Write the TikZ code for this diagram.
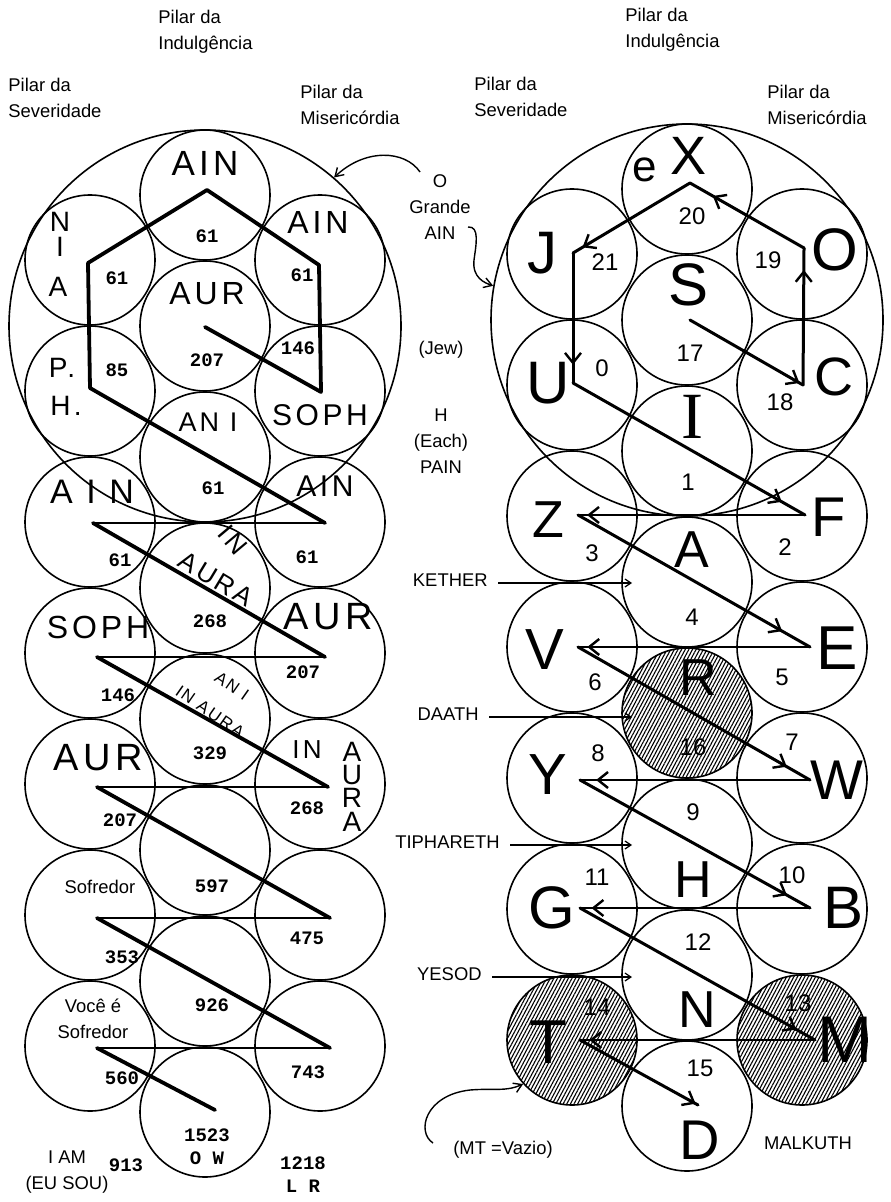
\documentclass[tikz,border=0pt]{standalone}
\usepackage{fontspec}
\setmainfont{Liberation Sans}
\newfontfamily\maofont[LetterSpace=12]{Liberation Sans}
\newfontfamily\numfont{Liberation Mono}
\newfontfamily\serifont{Liberation Serif}
\usetikzlibrary{arrows.meta,decorations.markings,patterns.meta}

\tikzset{
  bola/.style={circle, draw, line width=0.8pt, minimum size=65pt, inner sep=0pt},
  grande/.style={circle, draw, line width=0.8pt, minimum size=196pt, inner sep=0pt},
  hachura/.style={pattern={Lines[angle=62,distance=1.6pt,line width=0.55pt]}},
  rotulo/.style={font=\fontsize{9.2}{13}\selectfont, inner sep=0pt},
  mao/.style={font=\maofont\fontsize{#1}{#1}\selectfont, inner sep=0pt},
  mao/.default=16,
  letra/.style={font=\fontsize{#1}{#1}\selectfont, inner sep=0pt},
  letra/.default=28,
  num/.style={font=\numfont\bfseries\fontsize{9.5}{11.5}\selectfont, inner sep=0pt},
  numr/.style={font=\fontsize{12}{12}\selectfont, inner sep=0pt},
  raio/.style={line width=1.9pt, line join=round, line cap=round},
  raiofino/.style={line width=1.3pt, line cap=round},
  caminho/.style={line width=1.5pt, line cap=round},
  caminhofino/.style={line width=1.2pt, line cap=round},
  seta/.style={postaction={decorate}, decoration={markings,
      mark=at position #1 with {\arrow{Straight Barb[length=5pt,width=8pt,line width=1.2pt]}}}},
  seta/.default=0.97,
  fina/.style={line width=0.6pt, -{Straight Barb[length=3pt,width=4pt]}},
  curva/.style={line width=0.7pt, -{Straight Barb[length=4pt,width=5pt]}},
}

\begin{document}
\begin{tikzpicture}[x=0.5pt, y=-0.5pt]
    \useasboundingbox (0,0) rectangle (890,1202);

    % Pilares
    \node[rotulo, align=left, anchor=north west] (pIndE) at (158,10) {Pilar da\\Indulgência};
    \node[rotulo, align=left, anchor=north west] (pSevE) at (8,78) {Pilar da\\Severidade};
    \node[rotulo, align=left, anchor=north west] (pMisE) at (300,85) {Pilar da\\Misericórdia};
    \node[rotulo, align=left, anchor=north west] (pIndD) at (625,8) {Pilar da\\Indulgência};
    \node[rotulo, align=left, anchor=north west] (pSevD) at (474,77) {Pilar da\\Severidade};
    \node[rotulo, align=left, anchor=north west] (pMisD) at (767,85) {Pilar da\\Misericórdia};

    % O Grande AIN
    \node[grande] (grande1) at (205,326) {};
    \node[grande] (grande2) at (687,320) {};

    % Arvore da esquerda
    \node[bola] (eAIN) at (205,195) {};
    \node[bola] (eNIA) at (90,260) {};
    \node[bola] (eAINb) at (320,260) {};
    \node[bola] (eAUR) at (205,326) {};
    \node[bola] (ePH) at (90,391) {};
    \node[bola] (eSOPH) at (320,391) {};
    \node[bola] (eANI) at (205,457) {};
    \node[bola] (eAINc) at (90,522) {};
    \node[bola] (eAINd) at (320,522) {};
    \node[bola] (eINAURA) at (205,588) {};
    \node[bola] (eSOPHb) at (90,653) {};
    \node[bola] (eAURb) at (320,653) {};
    \node[bola] (eANIAURA) at (205,719) {};
    \node[bola] (eAURc) at (90,784) {};
    \node[bola] (eINAURAb) at (320,784) {};
    \node[bola] (e597) at (205,850) {};
    \node[bola] (eSofr) at (90,915) {};
    \node[bola] (e475) at (320,915) {};
    \node[bola] (e926) at (205,981) {};
    \node[bola] (eVoce) at (90,1046) {};
    \node[bola] (e743) at (320,1046) {};
    \node[bola] (e1523) at (205,1112) {};

    % Arvore da direita
    \node[bola] (cX) at (687,189) {};
    \node[bola] (cJ) at (572,254) {};
    \node[bola] (cO) at (802,254) {};
    \node[bola] (cS) at (687,320) {};
    \node[bola] (cU) at (572,385) {};
    \node[bola] (cC) at (802,385) {};
    \node[bola] (cI) at (687,451) {};
    \node[bola] (cZ) at (572,516) {};
    \node[bola] (cF) at (802,516) {};
    \node[bola] (cA) at (687,582) {};
    \node[bola] (cV) at (572,647) {};
    \node[bola] (cE) at (802,647) {};
    \node[bola, hachura] (cR) at (687,713) {};
    \node[bola] (cY) at (572,778) {};
    \node[bola] (cW) at (802,778) {};
    \node[bola] (cH) at (687,844) {};
    \node[bola] (cG) at (572,909) {};
    \node[bola] (cB) at (802,909) {};
    \node[bola] (cN) at (687,975) {};
    \node[bola, hachura] (cT) at (572,1040) {};
    \node[bola, hachura] (cM) at (802,1040) {};
    \node[bola] (cD) at (687,1106) {};

    % Raio da esquerda
    \coordinate (a0) at (205,327);
    \coordinate (a1) at (321,392);
    \coordinate (a2) at (319,265);
    \coordinate (a3) at (207,190);
    \coordinate (a4) at (88,263);
    \coordinate (a5) at (90,388);
    \coordinate (a6) at (325,523);
    \coordinate (a7) at (93,523);
    \coordinate (a8) at (325,657);
    \coordinate (a9) at (97,657);
    \coordinate (a10) at (328,787);
    \coordinate (a11) at (97,787);
    \coordinate (a12) at (330,918);
    \coordinate (a13) at (97,918);
    \coordinate (a14) at (330,1048);
    \coordinate (a15) at (97,1048);
    \coordinate (a16) at (215,1110);
    \draw[raio] (a0) -- (a1) -- (a2) -- (a3) -- (a4) -- (a5) -- (a6);
    \draw[raiofino] (a6) -- (a7) (a8) -- (a9) (a10) -- (a11) (a12) -- (a13) (a14) -- (a15);
    \draw[raio] (a7) -- (a8) (a9) -- (a10) (a11) -- (a12) (a13) -- (a14) (a15) -- (a16);

    % Caminho da direita
    \coordinate (pS) at (690,320);
    \coordinate (pC) at (803,385);
    \coordinate (pCt) at (804,248);
    \coordinate (pX) at (690,183);
    \coordinate (pJ) at (573,253);
    \coordinate (pU) at (573,383);
    \coordinate (pF) at (805,515);
    \coordinate (pZ) at (578,515);
    \coordinate (pE) at (810,647);
    \coordinate (pV) at (578,647);
    \coordinate (pW) at (810,780);
    \coordinate (pY) at (580,780);
    \coordinate (pB) at (810,908);
    \coordinate (pG) at (580,908);
    \coordinate (pM) at (815,1040);
    \coordinate (pT) at (580,1040);
    \coordinate (pD) at (698,1105);
    \draw[caminho, seta=0.97] (pS) -- (pC);
    \draw[caminho, seta=0.84] (pC) -- (pCt);
    \draw[caminho, seta=0.8] (pCt) -- (pX);
    \draw[caminho, seta=0.92] (pX) -- (pJ);
    \draw[caminho, seta=0.86] (pJ) -- (pU);
    \draw[caminho, seta=0.9] (pU) -- (pF);
    \draw[caminhofino, seta=0.96] (pF) -- (pZ);
    \draw[caminho, seta=0.88] (pZ) -- (pE);
    \draw[caminhofino, seta=0.96] (pE) -- (pV);
    \draw[caminho, seta=0.9] (pV) -- (pW);
    \draw[caminhofino, seta=0.93] (pW) -- (pY);
    \draw[caminho, seta=0.9] (pY) -- (pB);
    \draw[caminhofino, seta=0.95] (pB) -- (pG);
    \draw[caminho, seta=0.92] (pG) -- (pM);
    \draw[caminhofino, seta=0.96] (pM) -- (pT);
    \draw[caminho, seta=0.98] (pT) -- (pD);

    % Textos do meio
    \node[rotulo, align=center, anchor=north] (ogrande) at (440,174) {O\\Grande\\AIN};
    \coordinate (g1) at (420,172);
    \coordinate (g2) at (468,227);
    \draw[curva] (g1) .. controls (405,150) and (365,148) .. (grande1.49);
    \draw[curva] (g2) .. controls (480,226) and (476,245) .. (474,260) .. controls (472,278) and (485,283) .. (grande2.170);
    \node[rotulo] (jew) at (441,350) {(Jew)};
    \node[rotulo, align=center, anchor=north] (pain) at (441,408) {H\\(Each)\\PAIN};

    \node[rotulo, anchor=base east] (kether) at (488,586) {KETHER};
    \node[rotulo, anchor=base east] (daath) at (479,720) {DAATH};
    \node[rotulo, anchor=base east] (tiph) at (500,848) {TIPHARETH};
    \node[rotulo, anchor=base east] (yesod) at (482,980) {YESOD};
    \coordinate (kether-a) at (632,583);
    \coordinate (daath-a) at (632,717);
    \coordinate (tiph-a) at (632,845);
    \coordinate (yesod-a) at (632,977);
    \draw[fina] ([shift={(5pt,1.5pt)}]kether.base east) -- (kether-a);
    \draw[fina] ([shift={(5pt,1.5pt)}]daath.base east) -- (daath-a);
    \draw[fina] ([shift={(5pt,1.5pt)}]tiph.base east) -- (tiph-a);
    \draw[fina] ([shift={(5pt,1.5pt)}]yesod.base east) -- (yesod-a);

    \node[rotulo] (vazio) at (503,1150) {(MT =Vazio)};
    \coordinate (m1) at (433,1143);
    \draw[curva] (m1) .. controls (416,1132) and (425,1095) .. (470,1090) .. controls (495,1088) and (505,1092) .. (cT.222);
    \node[rotulo] (malkuth) at (808,1143) {MALKUTH};

    % Letras e numeros da esquerda
    \node[mao=17.5] (tAIN) at (205,163) {AIN};
    \node[mao=14] (tN) at (60,222) {N};
    \node[mao=14] (tI) at (60,247) {I};
    \node[mao=14] (tA) at (58,287) {A};
    \node[num] (n61a) at (207,236) {61};
    \node[num] (n61b) at (117,278) {61};
    \node[mao=16] (tAINb) at (318,222) {AIN};
    \node[num] (n61c) at (302,275) {61};
    \node[mao=16] (tAUR) at (207,294) {AUR};
    \node[num] (n207a) at (207,360) {207};
    \node[num] (n146a) at (298,348) {146};
    \node[mao=14] (tP) at (62,368) {P.};
    \node[mao=14] (tH) at (66,406) {H.};
    \node[num] (n85) at (117,370) {85};
    \node[mao=13.5] (tANI) at (208,422) {AN I};
    \node[mao=15] (tSOPH) at (320,415) {SOPH};
    \node[num] (n61d) at (213,488) {61};
    \node[mao=17] (tAINc) at (92,492) {A I N};
    \node[mao=15] (tAINd) at (325,486) {AIN};
    \node[num] (n61e) at (120,560) {61};
    \node[num] (n61f) at (307,557) {61};
    \node[mao=13, rotate=-50] (tIN) at (233,540) {IN};
    \node[mao=13, rotate=-31] (tAURA) at (216,579) {AURA};
    \node[num] (n268a) at (210,621) {268};
    \node[mao=16] (tSOPHb) at (98,627) {SOPH};
    \node[mao=19] (tAURb) at (328,617) {AUR};
    \node[num] (n146b) at (118,695) {146};
    \node[num] (n207b) at (303,672) {207};
    \node[mao=8.5, rotate=-35] (tANIb) at (232,686) {AN I};
    \node[mao=8.5, rotate=-35] (tINAURA) at (210,712) {IN AURA};
    \node[num] (n329) at (210,753) {329};
    \node[mao=19] (tAURc) at (98,758) {AUR};
    \node[mao=13] (tINb) at (307,750) {IN};
    \node[mao=14] (tA1) at (352,752) {A};
    \node[mao=14] (tU1) at (352,775) {U};
    \node[mao=14] (tR1) at (352,798) {R};
    \node[mao=14] (tA2) at (352,822) {A};
    \node[num] (n268b) at (307,808) {268};
    \node[num] (n207c) at (120,820) {207};
    \node[num] (n597) at (212,886) {597};
    \node[rotulo] (sofr) at (100,887) {Sofredor};
    \node[num] (n475) at (307,938) {475};
    \node[num] (n353) at (122,957) {353};
    \node[num] (n926) at (212,1005) {926};
    \node[rotulo, align=center] (voce) at (93,1019) {Você é\\Sofredor};
    \node[num] (n743) at (308,1072) {743};
    \node[num] (n560) at (122,1078) {560};
    \node[num, align=center] (n1523) at (207,1147) {1523\\O W};
    \node[rotulo, align=center] (eusou) at (67,1172) {I AM\\(EU SOU)};
    \node[num] (n913) at (126,1165) {913};
    \node[num, align=center] (n1218) at (303,1175) {1218\\L R};

    % Letras e numeros da direita
    \node[letra=22] (le) at (645,170) {e};
    \node[letra=27] (lX) at (688,156) {X};
    \node[numr] (r20) at (692,216) {20};
    \node[letra=30] (lJ) at (542,253) {J};
    \node[numr] (r21) at (605,262) {21};
    \node[numr] (r19) at (768,260) {19};
    \node[letra=30] (lO) at (835,250) {O};
    \node[letra=30] (lS) at (688,285) {S};
    \node[numr] (r17) at (690,353) {17};
    \node[letra=30] (lU) at (548,383) {U};
    \node[numr] (r0) at (602,368) {0};
    \node[letra=27] (lC) at (834,377) {C};
    \node[numr] (r18) at (780,402) {18};
    \node[font=\serifont\fontsize{33}{33}\selectfont, inner sep=0pt] (lI) at (692,417) {I};
    \node[numr] (r1) at (688,482) {1};
    \node[letra=26] (lZ) at (548,520) {Z};
    \node[numr] (r3) at (592,553) {3};
    \node[letra=26] (lA) at (692,550) {A};
    \node[letra=28] (lF) at (829,517) {F};
    \node[numr] (r2) at (785,547) {2};
    \node[numr] (r4) at (692,617) {4};
    \node[letra=29] (lV) at (545,650) {V};
    \node[letra=31] (lE) at (837,648) {E};
    \node[numr] (r6) at (595,682) {6};
    \node[numr] (r5) at (782,677) {5};
    \node[letra=26] (lR) at (698,678) {R};
    \node[numr] (r16) at (693,747) {16};
    \node[numr] (r8) at (598,753) {8};
    \node[numr] (r7) at (792,742) {7};
    \node[letra=29] (lY) at (548,775) {Y};
    \node[letra=28] (lW) at (837,780) {W};
    \node[numr] (r9) at (693,812) {9};
    \node[letra=26] (lH) at (693,880) {H};
    \node[numr] (r11) at (597,877) {11};
    \node[numr] (r10) at (792,875) {10};
    \node[letra=30] (lG) at (552,908) {G};
    \node[letra=30] (lB) at (843,908) {B};
    \node[numr] (r12) at (698,942) {12};
    \node[letra=26] (lN) at (697,1010) {N};
    \node[numr] (r14) at (597,1007) {14};
    \node[numr] (r13) at (798,1003) {13};
    \node[letra=31] (lT) at (548,1042) {T};
    \node[letra=33] (lM) at (845,1040) {M};
    \node[numr] (r15) at (700,1068) {15};
    \node[letra=28] (lD) at (700,1140) {D};
\end{tikzpicture}
\end{document}
